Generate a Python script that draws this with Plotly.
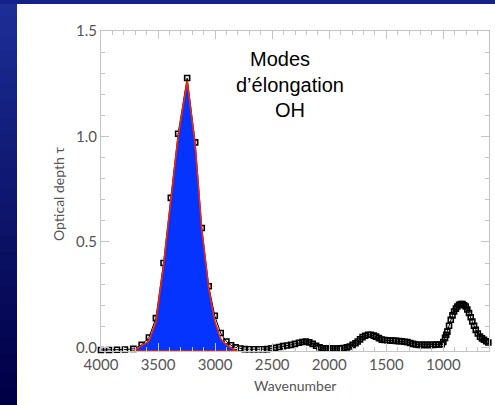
import plotly.graph_objects as go

# ---- data ----
wavenumber = [4000, 3930, 3860, 3790, 3717, 3644, 3580, 3519, 3452, 3388, 3324, 3245,
              3175, 3117, 3056, 3003, 2951, 2901, 2860, 2820, 2780, 2740, 2700, 2660,
              2620, 2580, 2545, 2510, 2475, 2440, 2405, 2370, 2335, 2300, 2265, 2235,
              2205, 2175, 2145, 2115, 2085, 2055, 2025, 1995, 1965, 1935, 1905, 1875,
              1845, 1820, 1795, 1770, 1750, 1730, 1708, 1685, 1660, 1635, 1610, 1590,
              1565, 1540, 1515, 1490, 1465, 1440, 1415, 1390, 1365, 1340, 1315, 1290,
              1265, 1240, 1215, 1190, 1165, 1140, 1115, 1090, 1065, 1040, 1015, 1000,
              985, 975, 965, 950, 935, 920, 906, 890, 877, 862, 847, 832, 818, 804,
              790, 775, 760, 746, 731, 716, 698, 679, 662, 644, 625, 606]
tau = [-0.012, -0.012, -0.011, -0.010, -0.007, 0.012, 0.047, 0.139, 0.400, 0.709, 1.013, 1.277,
       0.972, 0.566, 0.290, 0.150, 0.068, 0.028, 0.010, 0.000, -0.005, -0.008, -0.009, -0.009,
       -0.009, -0.009, -0.008, -0.005, -0.002, 0.002, 0.006, 0.009, 0.012, 0.017, 0.022, 0.026,
       0.028, 0.024, 0.017, 0.008, 0.000, -0.004, -0.005, -0.005, -0.005, -0.005, -0.004, -0.003,
       0.000, 0.004, 0.012, 0.020, 0.028, 0.038, 0.049, 0.055, 0.060, 0.060, 0.056, 0.051,
       0.044, 0.037, 0.035, 0.034, 0.033, 0.032, 0.031, 0.030, 0.029, 0.027, 0.025, 0.021,
       0.017, 0.014, 0.012, 0.012, 0.012, 0.012, 0.012, 0.012, 0.013, 0.014, 0.015, 0.026,
       0.045, 0.060, 0.075, 0.103, 0.131, 0.152, 0.170, 0.184, 0.194, 0.202, 0.206, 0.205,
       0.200, 0.194, 0.180, 0.163, 0.143, 0.123, 0.103, 0.083, 0.066, 0.051, 0.043, 0.036,
       0.029, 0.023]

# fitted OH stretch band (filled polygon)
fit_wn = [3717, 3580, 3519, 3452, 3388, 3324, 3245, 3175, 3117, 3056, 3003, 2951, 2901, 2814, 3717]
fit_tau = [-0.017, 0.030, 0.120, 0.390, 0.700, 1.000, 1.262, 0.960, 0.560, 0.280, 0.125, 0.040, 0.012, -0.017, -0.017]

x_ticks = [4000, 3500, 3000, 2500, 2000, 1500, 1000]
y_ticks = [0.0, 0.5, 1.0, 1.5]
y_tick_labels = ["0.0", "0.5", "1.0", "1.5"]

label_lines = ["Modes", "d\u2019élongation", "OH"]

fig = go.Figure()

fig.add_trace(go.Scatter(
    x=wavenumber, y=tau, mode="lines+markers",
    line=dict(color="black", width=1),
    marker=dict(symbol="square-open", size=5, color="black", line=dict(width=1.6, color="black")),
    showlegend=False, cliponaxis=False,
))
fig.add_trace(go.Scatter(
    x=fit_wn, y=fit_tau, mode="lines", fill="toself",
    fillcolor="#0533FF", line=dict(color="#FF2200", width=1.5),
    showlegend=False,
))

# frame background bands (slide template)
shapes = []
W, H = 495, 405
l, r, t, b = 101, 6, 31, 54
pw, ph = W - l - r, H - t - b

def px2paper(px, py):
    return (px - l) / pw, (H - b - py) / ph

n = 24
for i in range(n):
    y0p = i * H / n
    y1p = (i + 1) * H / n + 2
    f = i / (n - 1)
    col = "rgb(%d,%d,%d)" % (int(28 * (1 - f)), int(45 * (1 - f)), int(150 * (1 - f) + 70 * f))
    x0, ya = px2paper(0, y0p)
    x1, yb = px2paper(17, y1p)
    shapes.append(dict(type="rect", xref="paper", yref="paper", x0=x0, x1=x1, y0=yb, y1=ya,
                       fillcolor=col, line=dict(width=0), layer="below"))
x0, ya = px2paper(0, 0)
x1, yb = px2paper(W, 4)
shapes.append(dict(type="rect", xref="paper", yref="paper", x0=x0, x1=x1, y0=yb, y1=ya,
                   fillcolor="rgb(20,32,140)", line=dict(width=0), layer="below"))

annotations = []
for txt, (pxx, pyy) in zip(label_lines, [(280, 59), (290, 85), (290, 110)]):
    ax, ay = px2paper(pxx, pyy)
    annotations.append(dict(text=txt, x=ax, y=ay, xref="paper", yref="paper", showarrow=False,
                            xanchor="center", yanchor="middle",
                            font=dict(family="Liberation Sans, Arial", size=20, color="black")))
ax, ay = px2paper(295, 385)
annotations.append(dict(text="Wavenumber", x=ax, y=ay, xref="paper", yref="paper", showarrow=False,
                        xanchor="center", yanchor="middle",
                        font=dict(family="Lato, Noto Sans", size=14, color="#555")))
ax, ay = px2paper(58, 194)
annotations.append(dict(text="Optical depth \u03c4", x=ax, y=ay, xref="paper", yref="paper", showarrow=False,
                        xanchor="center", yanchor="middle", textangle=-90,
                        font=dict(family="Lato, Noto Sans", size=14, color="#555")))

axis_common = dict(showgrid=False, zeroline=False, showline=True, linecolor="#c4c4c4", linewidth=1,
                   mirror="allticks", ticks="inside", tickcolor="#c4c4c4", ticklen=8,
                   tickfont=dict(family="Lato, Noto Sans", size=15, color="#555"))

fig.update_layout(
    width=W, height=H,
    margin=dict(l=l, r=r, t=t, b=b),
    paper_bgcolor="white", plot_bgcolor="white",
    shapes=shapes, annotations=annotations,
    xaxis=dict(range=[4000, 600], tickvals=x_ticks,
               minor=dict(dtick=100, ticks="inside", ticklen=4, tickcolor="#c4c4c4"),
               **axis_common),
    yaxis=dict(range=[-0.017, 1.5], tickvals=y_ticks, ticktext=y_tick_labels,
               minor=dict(dtick=0.1, tick0=0, ticks="inside", ticklen=4, tickcolor="#c4c4c4"),
               **axis_common),
)

fig.write_html("out.html")
